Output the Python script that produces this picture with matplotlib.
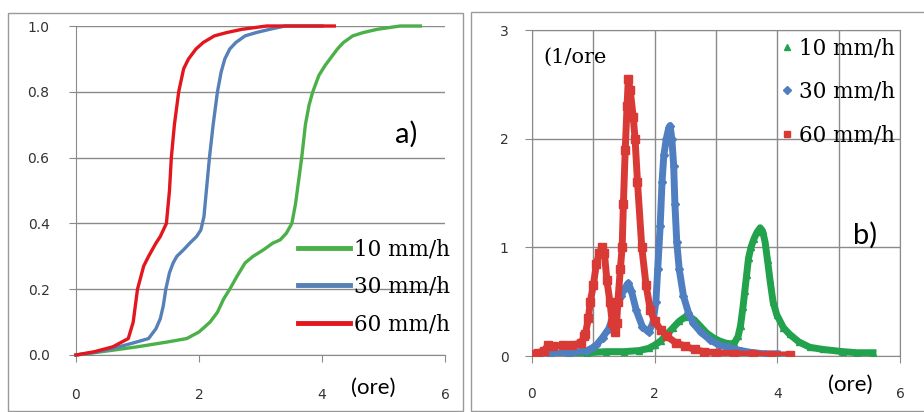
import numpy as np
import matplotlib
matplotlib.use("Agg")
from matplotlib import pyplot as plt
from matplotlib.lines import Line2D
from matplotlib.patches import Rectangle

labels = ["10 mm/h", "30 mm/h", "60 mm/h"]

# a) cumulative curves
green_x = [0, 0.5, 1.0, 1.5, 1.8, 2.0, 2.18, 2.3, 2.4, 2.5, 2.62, 2.75, 2.88, 3.05, 3.2, 3.32, 3.42,
           3.51, 3.57, 3.62, 3.67, 3.73, 3.79, 3.85, 3.95, 4.05, 4.13, 4.25, 4.35, 4.5, 4.67, 4.9, 5.27, 5.6]
green_y = [0, 0.012, 0.025, 0.04, 0.05, 0.07, 0.1, 0.13, 0.17, 0.2, 0.24, 0.28, 0.3, 0.32, 0.34, 0.35, 0.37,
           0.4, 0.46, 0.53, 0.6, 0.7, 0.76, 0.8, 0.85, 0.88, 0.9, 0.93, 0.95, 0.97, 0.98, 0.99, 1.0, 1.0]
blue_x = [0, 0.3, 0.6, 0.9, 1.18, 1.3, 1.37, 1.42, 1.46, 1.52, 1.58, 1.64, 1.75, 1.85, 1.96, 2.03, 2.08,
          2.12, 2.17, 2.23, 2.3, 2.36, 2.42, 2.5, 2.6, 2.75, 2.93, 3.15, 3.4, 4.0]
blue_y = [0, 0.008, 0.02, 0.035, 0.05, 0.08, 0.11, 0.15, 0.2, 0.25, 0.28, 0.3, 0.32, 0.34, 0.36, 0.38, 0.42,
          0.5, 0.6, 0.7, 0.8, 0.86, 0.9, 0.93, 0.95, 0.97, 0.98, 0.99, 1.0, 1.0]
red_x = [0, 0.3, 0.6, 0.85, 0.93, 1.0, 1.1, 1.18, 1.3, 1.37, 1.47, 1.52, 1.55, 1.6, 1.67, 1.75, 1.83,
         1.95, 2.07, 2.25, 2.45, 2.7, 3.1, 3.6, 4.2]
red_y = [0, 0.01, 0.025, 0.05, 0.1, 0.2, 0.27, 0.3, 0.34, 0.36, 0.4, 0.5, 0.6, 0.7, 0.8, 0.87, 0.9,
         0.93, 0.95, 0.97, 0.98, 0.99, 1.0, 1.0, 1.0]

# b) densities (1/ore)
g_x = [0, 0.3, 0.6, 0.9, 1.2, 1.5, 1.75, 1.9, 2.0, 2.1, 2.2, 2.3, 2.4, 2.5, 2.55, 2.65, 2.75, 2.85, 2.95,
       3.05, 3.15, 3.25, 3.3, 3.36, 3.4, 3.44, 3.47, 3.5, 3.53, 3.57, 3.62, 3.67, 3.72, 3.76, 3.8, 3.84,
       3.88, 3.93, 3.99, 4.1, 4.2, 4.35, 4.53, 4.75, 5.07, 5.3, 5.56]
g_y = [0.01, 0.02, 0.03, 0.03, 0.04, 0.04, 0.05, 0.07, 0.1, 0.14, 0.2, 0.26, 0.32, 0.36, 0.37, 0.33, 0.27,
       0.21, 0.17, 0.14, 0.12, 0.11, 0.12, 0.18, 0.28, 0.45, 0.6, 0.75, 0.9, 1.0, 1.08, 1.14, 1.18, 1.15,
       1.05, 0.88, 0.7, 0.5, 0.38, 0.26, 0.2, 0.13, 0.08, 0.06, 0.04, 0.03, 0.03]
b_x = [0, 0.3, 0.6, 0.9, 1.0, 1.05, 1.15, 1.25, 1.35, 1.45, 1.52, 1.57, 1.62, 1.7, 1.8, 1.9, 1.97, 2.02,
       2.05, 2.09, 2.12, 2.15, 2.19, 2.23, 2.25, 2.28, 2.31, 2.33, 2.36, 2.4, 2.47, 2.55, 2.63, 2.75, 2.9,
       3.05, 3.2, 3.4, 3.6, 3.8, 4.0]
b_y = [0.02, 0.02, 0.03, 0.05, 0.08, 0.1, 0.17, 0.25, 0.4, 0.55, 0.63, 0.67, 0.6, 0.42, 0.27, 0.22, 0.3,
       0.5, 0.8, 1.2, 1.6, 1.85, 2.0, 2.1, 2.12, 2.0, 1.75, 1.4, 1.05, 0.8, 0.55, 0.4, 0.3, 0.22, 0.15,
       0.1, 0.08, 0.05, 0.03, 0.02, 0.02]
r_x = [0, 0.1, 0.2, 0.26, 0.35, 0.5, 0.65, 0.8, 0.85, 0.87, 0.92, 0.95, 1.0, 1.05, 1.1, 1.14, 1.18, 1.22,
       1.27, 1.31, 1.35, 1.38, 1.4, 1.44, 1.47, 1.49, 1.52, 1.55, 1.57, 1.6, 1.65, 1.68, 1.72, 1.79, 1.86,
       1.93, 2.0, 2.1, 2.2, 2.35, 2.5, 2.65, 2.8, 3.0, 3.3, 3.6, 3.9, 4.2]
r_y = [0.02, 0.03, 0.05, 0.1, 0.09, 0.1, 0.1, 0.12, 0.18, 0.2, 0.35, 0.5, 0.65, 0.85, 0.95, 1.0, 0.95, 0.7,
       0.5, 0.3, 0.22, 0.3, 0.5, 0.8, 1.0, 1.4, 1.9, 2.3, 2.55, 2.45, 2.2, 2.0, 1.6, 1.0, 0.65, 0.42, 0.32,
       0.24, 0.18, 0.12, 0.09, 0.06, 0.04, 0.03, 0.02, 0.015, 0.01, 0.01]

line_cols = ["#4cb049", "#5580b8", "#e3161d"]
mark_cols = ["#22a24c", "#4f7fc0", "#d93a35"]
grid_col = "#8a8a8a"
serif = "DejaVu Serif"

fig = plt.figure(figsize=(9.24, 4.12), dpi=100)
W, H = 924.0, 412.0

# panel frames
fig.patches.append(Rectangle((8 / W, 1 / H), 455 / W, 398 / H, transform=fig.transFigure,
                             fill=False, edgecolor="#999999", lw=1))
fig.patches.append(Rectangle((471 / W, 1 / H), 460 / W, 399 / H, transform=fig.transFigure,
                             fill=False, edgecolor="#999999", lw=1))

# ---- panel a)
ax1 = fig.add_axes([76 / W, 57 / H, 369 / W, 329 / H])
for x, y, c, lab in zip([green_x, blue_x, red_x], [green_y, blue_y, red_y], line_cols, labels):
    ax1.plot(x, y, color=c, lw=2.4, label=lab, clip_on=False, zorder=3)
ax1.set_xlim(0, 6)
ax1.set_ylim(0, 1)
ax1.set_xticks([0, 2, 4, 6])
ax1.set_yticks(np.arange(0, 1.01, 0.2))
ax1.set_yticklabels(["%.1f" % v for v in np.arange(0, 1.01, 0.2)])
ax1.grid(axis="y", color=grid_col, lw=1)
for s in ["top", "right"]:
    ax1.spines[s].set_visible(False)
for s in ["left", "bottom"]:
    ax1.spines[s].set_color(grid_col)
ax1.tick_params(axis="x", length=5, color=grid_col, pad=19, labelsize=10, labelcolor="#333333")
ax1.tick_params(axis="y", length=5, color=grid_col, pad=14, labelsize=10, labelcolor="#333333")
leg1 = ax1.legend(loc="center left", bbox_to_anchor=(0.6016, 0.2067), frameon=False,
                  prop={"family": serif, "size": 15.5}, handlelength=2.4, handletextpad=0.2,
                  labelspacing=0.72, borderpad=0, borderaxespad=0)
for h in leg1.get_lines():
    h.set_linewidth(3.5)
ax1.text(0.895, 0.67, "a)", transform=ax1.transAxes, fontsize=21, family="Lato", ha="center", va="center")
ax1.text(0.805, -0.1, "(ore)", transform=ax1.transAxes, fontsize=16, family="Lato", ha="center", va="center")

# ---- panel b)
ax2 = fig.add_axes([532 / W, 56 / H, 368 / W, 326 / H])
for x, y, c, m, ms in zip([g_x, b_x, r_x], [g_y, b_y, r_y], mark_cols, ["^", "D", "s"], [5, 4.5, 5.5]):
    ax2.plot(x, y, color=c, lw=5, marker=m, ms=ms, zorder=3)
ax2.set_xlim(0, 6)
ax2.set_ylim(0, 3)
ax2.set_xticks([0, 2, 4, 6])
ax2.set_xticks([1, 3, 5], minor=True)
ax2.set_yticks([0, 1, 2, 3])
ax2.grid(which="both", color=grid_col, lw=1)
for s in ax2.spines.values():
    s.set_color(grid_col)
ax2.tick_params(axis="x", which="major", length=5, color=grid_col, pad=17, labelsize=10, labelcolor="#333333")
ax2.tick_params(axis="x", which="minor", length=0)
ax2.tick_params(axis="y", length=5, color=grid_col, pad=12, labelsize=10, labelcolor="#333333")
handles = [Line2D([], [], ls="none", marker=m, color=c, ms=4.5)
           for m, c in zip(["^", "D", "s"], mark_cols)]
ax2.legend(handles, labels, loc="center left", bbox_to_anchor=(0.67, 0.81), frameon=False,
           prop={"family": serif, "size": 15.5}, handlelength=0.8, handletextpad=0.15,
           labelspacing=1.0, borderpad=0, borderaxespad=0, numpoints=1)
ax2.text(0.03, 0.915, "(1/ore", transform=ax2.transAxes, fontsize=15, family=serif, ha="left", va="center")
ax2.text(0.905, 0.37, "b)", transform=ax2.transAxes, fontsize=21, family="Lato", ha="center", va="center")
ax2.text(0.865, -0.09, "(ore)", transform=ax2.transAxes, fontsize=16, family="Lato", ha="center", va="center")

fig.savefig("out.png", dpi=100)
